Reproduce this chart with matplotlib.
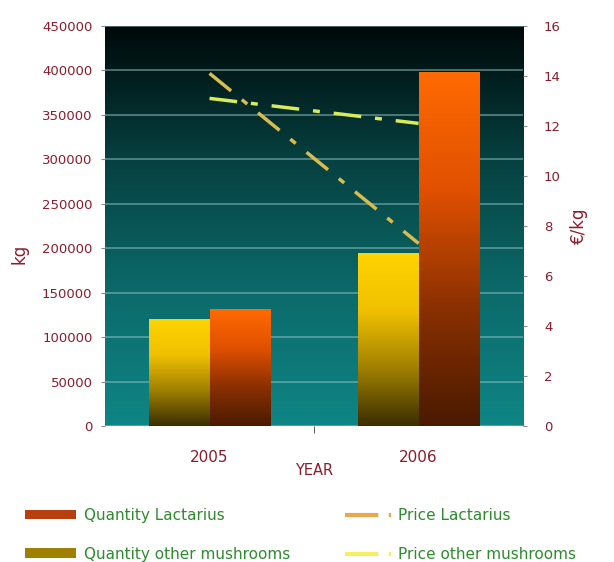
import numpy as np
import matplotlib
matplotlib.use("Agg")
import matplotlib.pyplot as plt
from matplotlib.colors import LinearSegmentedColormap
from matplotlib.patches import Patch
from matplotlib.lines import Line2D

years = ["2005", "2006"]
qty_lactarius = [131000, 398000]
qty_other = [120000, 194000]
price_lactarius = [14.1, 7.3]
price_other = [13.1, 12.1]

red_txt = "#8b1c2c"
green_txt = "#2e8b2e"

fig = plt.figure(figsize=(6.14, 5.62), dpi=100)
ax = fig.add_axes([0.171, 0.242, 0.681, 0.712])

# background gradient: black-ish at top, teal at bottom
bg = LinearSegmentedColormap.from_list("bg", ["#0f8585", "#0c6a6a", "#064040", "#000808"])
grad = np.linspace(0, 1, 256).reshape(-1, 1)
ax.imshow(grad, cmap=bg, aspect="auto", extent=[0, 1, 0, 1], origin="lower",
          transform=ax.transAxes, zorder=0)

x = np.arange(len(years))
w = 0.29
b_other = ax.bar(x - w / 2, qty_other, w, color="none", zorder=2)
b_lact = ax.bar(x + w / 2, qty_lactarius, w, color="none", zorder=2)

cm_yel = LinearSegmentedColormap.from_list("yel", ["#3a2e00", "#a08000", "#f0c000", "#ffd400"])
cm_org = LinearSegmentedColormap.from_list("org", ["#4a1a00", "#8a3000", "#e05000", "#ff6a00"])
for bars, cm in ((b_other, cm_yel), (b_lact, cm_org)):
    for r in bars:
        x0, y0 = r.get_x(), r.get_y()
        ax.imshow(grad, cmap=cm, aspect="auto", origin="lower",
                  extent=[x0, x0 + r.get_width(), y0, y0 + r.get_height()], zorder=2)

ax.set_xlim(-0.5, 1.5)
ax.set_ylim(0, 450000)
ax.set_yticks(np.arange(0, 450001, 50000))
ax.set_xticks(x)
ax.set_xticklabels(years)
ax.set_xticks([0.5], minor=True)
ax.tick_params(axis="x", which="major", length=0, pad=17)
ax.tick_params(axis="x", which="minor", length=5, color="#444444")
ax.tick_params(axis="y", length=3, pad=6, color="#888888", labelcolor=red_txt, labelsize=9.5)
ax.tick_params(axis="x", labelcolor=red_txt, labelsize=11)
ax.grid(axis="y", color="#8fc0c0", lw=1.3, alpha=0.55, zorder=1)
ax.set_axisbelow(True)
for s in ax.spines.values():
    s.set_visible(False)
ax.set_xlabel("YEAR", color=red_txt, fontsize=10.5, labelpad=-1)
ax.set_ylabel("kg", color=red_txt, fontsize=12)
ax.yaxis.set_label_coords(-0.184, 0.43)

ax2 = ax.twinx()
ax2.set_ylim(0, 16)
ax2.set_yticks(np.arange(0, 17, 2))
ax2.tick_params(axis="y", length=3, pad=12, color="#888888", labelcolor=red_txt, labelsize=9.5)
for s in ax2.spines.values():
    s.set_visible(False)
ax2.plot(x, price_lactarius, color="#d8bc50", lw=2.5, dashes=[8, 4, 2, 4], zorder=3)
ax2.plot(x, price_other, color="#d8ec58", lw=2.5, dashes=[8, 4, 2, 4], zorder=3)
ax2.set_ylabel("€/kg", color=red_txt, fontsize=12)
ax2.yaxis.set_label_coords(1.112, 0.50)

bar_handles = [Patch(facecolor="#b84010", edgecolor="none"),
               Patch(facecolor="#a08000", edgecolor="none")]
line_handles = [Line2D([], [], color="#e8a850", lw=3, dashes=[8, 2.5, 1.5, 2.5]),
                Line2D([], [], color="#f4f060", lw=3, dashes=[8, 2.5, 1.5, 2.5])]
leg_kw = dict(loc="lower left", frameon=False, fontsize=11, handleheight=0.6,
              labelspacing=1.55, borderpad=0, handletextpad=0.5)
leg1 = fig.legend(bar_handles, ["Quantity Lactarius", "Quantity other mushrooms"],
                  bbox_to_anchor=(0.029, -0.013), handlelength=3.3, **leg_kw)
leg2 = fig.legend(line_handles, ["Price Lactarius", "Price other mushrooms"],
                  bbox_to_anchor=(0.549, -0.013), handlelength=3.0, **leg_kw)
for leg in (leg1, leg2):
    for t in leg.get_texts():
        t.set_color(green_txt)

fig.savefig("out.png", dpi=100)
